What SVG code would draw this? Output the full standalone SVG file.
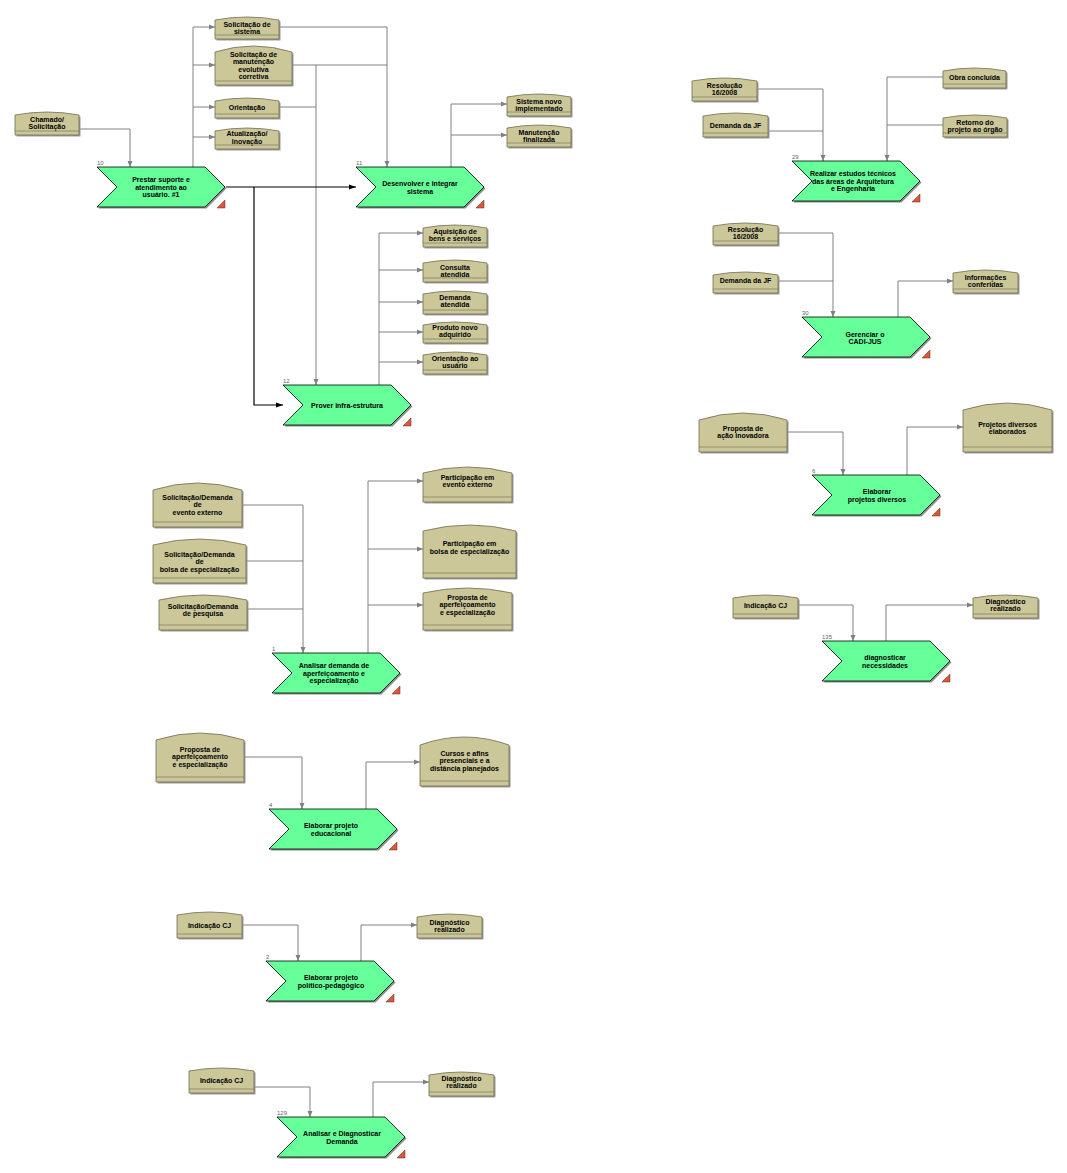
<svg xmlns="http://www.w3.org/2000/svg" width="1067" height="1173" viewBox="0 0 1067 1173">
<style>
.ev{fill:#CBC799;stroke:#6F6C50;stroke-width:0.8}
.evs{fill:#9C9C9C}
.sep{stroke:#6F6C50;stroke-width:0.6}
.fn{fill:#66FF99;stroke:#000;stroke-width:0.8}
.fns{fill:#8C8C8C}
.tri{fill:#D9573A;stroke:#6B2818;stroke-width:0.5}
.t{font-family:"Liberation Sans",Arial,sans-serif;font-size:7px;font-weight:bold;text-anchor:middle;fill:#000}
.num{font-family:"Liberation Sans",Arial,sans-serif;font-size:6px;fill:#666}
.c{fill:none;stroke:#808080;stroke-width:1;marker-end:url(#ag)}
.cn{fill:none;stroke:#808080;stroke-width:1}
.cb{fill:none;stroke:#000;stroke-width:1.2;marker-end:url(#ab)}
</style>
<defs>
<marker id="ag" viewBox="0 0 6 6" refX="6" refY="3" markerWidth="6" markerHeight="6" orient="auto" markerUnits="userSpaceOnUse"><path d="M0,0.5 L6,3 L0,5.5 Z" fill="#808080"/></marker>
<marker id="ab" viewBox="0 0 7 6" refX="7" refY="3" markerWidth="7" markerHeight="6" orient="auto" markerUnits="userSpaceOnUse"><path d="M0,0.5 L7,3 L0,5.5 Z" fill="#000"/></marker>
<polygon id="fshape" points="0,0 108,0 128,20 108,40 0,40 20,20"/>
<polygon id="ftri" points="120,41 128,41 128,33"/>
</defs>
<rect width="1067" height="1173" fill="#fff"/>

<g id="connectors">
<path class="c" d="M79,129 H130 V167"/>
<path class="c" d="M193,167 V27 H215"/>
<path class="c" d="M193,65 H215"/>
<path class="c" d="M193,107 H215"/>
<path class="c" d="M193,137 H215"/>
<path class="c" d="M279,27 H387 V167"/>
<path class="cn" d="M292,65 H387"/>
<path class="c" d="M316,65 V385"/>
<path class="cn" d="M279,107 H316"/>
<path class="cb" d="M226,187 H356"/>
<path class="cb" d="M254,187 V405 H283"/>
<path class="c" d="M451,167 V104 H507"/>
<path class="c" d="M451,135 H507"/>
<path class="c" d="M379,385 V233 H423"/>
<path class="c" d="M379,270 H423"/>
<path class="c" d="M379,302 H423"/>
<path class="c" d="M379,332 H423"/>
<path class="c" d="M379,362 H423"/>
<path class="cn" d="M242,505 H303"/>
<path class="cn" d="M246,561 H303"/>
<path class="cn" d="M247,609 H303"/>
<path class="c" d="M303,505 V653"/>
<path class="c" d="M368,653 V481 H423"/>
<path class="c" d="M368,549 H423"/>
<path class="c" d="M368,605 H423"/>
<path class="c" d="M244,757 H302 V809"/>
<path class="c" d="M366,809 V762 H420"/>
<path class="c" d="M242,925 H298 V961"/>
<path class="c" d="M361,961 V925 H417"/>
<path class="c" d="M254,1087 H310 V1117"/>
<path class="c" d="M373,1117 V1082 H429"/>
<path class="c" d="M757,89 H823 V161"/>
<path class="cn" d="M768,131 H823"/>
<path class="c" d="M943,77 H887 V161"/>
<path class="cn" d="M943,125 H887"/>
<path class="c" d="M778,233 H833 V317"/>
<path class="cn" d="M778,281 H833"/>
<path class="c" d="M898,317 V281 H953"/>
<path class="c" d="M787,432 H843 V475"/>
<path class="c" d="M907,475 V427 H963"/>
<path class="c" d="M798,605 H853 V641"/>
<path class="c" d="M886,641 V605 H973"/>
</g>

<!-- Functions -->
<g id="f10" transform="translate(97,167)"><use href="#fshape" class="fns" x="1.5" y="1.5"/><use href="#fshape" class="fn"/><use href="#ftri" class="tri"/><text class="num" x="0" y="-2">10</text><text class="t" x="64" y="15">Prestar suporte e</text><text class="t" x="64" y="22.5">atendimento ao</text><text class="t" x="64" y="30">usuário. #1</text></g>
<g id="f11" transform="translate(356,167)"><use href="#fshape" class="fns" x="1.5" y="1.5"/><use href="#fshape" class="fn"/><use href="#ftri" class="tri"/><text class="num" x="0" y="-2">11</text><text class="t" x="64" y="19">Desenvolver e integrar</text><text class="t" x="64" y="26.5">sistema</text></g>
<g id="f12" transform="translate(283,385)"><use href="#fshape" class="fns" x="1.5" y="1.5"/><use href="#fshape" class="fn"/><use href="#ftri" class="tri"/><text class="num" x="0" y="-2">12</text><text class="t" x="64" y="23">Prover infra-estrutura</text></g>
<g id="f1" transform="translate(272,653)"><use href="#fshape" class="fns" x="1.5" y="1.5"/><use href="#fshape" class="fn"/><use href="#ftri" class="tri"/><text class="num" x="0" y="-2">1</text><text class="t" x="62" y="15">Analisar demanda de</text><text class="t" x="62" y="22.5">aperfeiçoamento e</text><text class="t" x="62" y="30">especialização</text></g>
<g id="f4" transform="translate(269,809)"><use href="#fshape" class="fns" x="1.5" y="1.5"/><use href="#fshape" class="fn"/><use href="#ftri" class="tri"/><text class="num" x="0" y="-2">4</text><text class="t" x="62" y="19">Elaborar projeto</text><text class="t" x="62" y="26.5">educacional</text></g>
<g id="f2" transform="translate(266,961)"><use href="#fshape" class="fns" x="1.5" y="1.5"/><use href="#fshape" class="fn"/><use href="#ftri" class="tri"/><text class="num" x="0" y="-2">2</text><text class="t" x="65" y="19">Elaborar projeto</text><text class="t" x="65" y="26.5">político-pedagógico</text></g>
<g id="f129" transform="translate(277,1117)"><use href="#fshape" class="fns" x="1.5" y="1.5"/><use href="#fshape" class="fn"/><use href="#ftri" class="tri"/><text class="num" x="0" y="-2">129</text><text class="t" x="65" y="19">Analisar e Diagnosticar</text><text class="t" x="65" y="26.5">Demanda</text></g>
<g id="f29" transform="translate(792,161)"><use href="#fshape" class="fns" x="1.5" y="1.5"/><use href="#fshape" class="fn"/><use href="#ftri" class="tri"/><text class="num" x="0" y="-2">29</text><text class="t" x="61" y="15">Realizar estudos técnicos</text><text class="t" x="61" y="22.5">das áreas de Arquitetura</text><text class="t" x="61" y="30">e Engenharia</text></g>
<g id="f30" transform="translate(802,317)"><use href="#fshape" class="fns" x="1.5" y="1.5"/><use href="#fshape" class="fn"/><use href="#ftri" class="tri"/><text class="num" x="0" y="-2">30</text><text class="t" x="63" y="19.5">Gerenciar o</text><text class="t" x="63" y="27">CADI-JUS</text></g>
<g id="f6" transform="translate(812,475)"><use href="#fshape" class="fns" x="1.5" y="1.5"/><use href="#fshape" class="fn"/><use href="#ftri" class="tri"/><text class="num" x="0" y="-2">6</text><text class="t" x="65" y="19">Elaborar</text><text class="t" x="65" y="26.5">projetos diversos</text></g>
<g id="f135" transform="translate(822,641)"><use href="#fshape" class="fns" x="1.5" y="1.5"/><use href="#fshape" class="fn"/><use href="#ftri" class="tri"/><text class="num" x="0" y="-2">135</text><text class="t" x="63" y="19">diagnosticar</text><text class="t" x="63" y="26.5">necessidades</text></g>

<!-- Events -->
<g id="e-chamado"><path class="evs" transform="translate(1.5,1.5)" d="M15,115 Q47,109 79,115 V135 H15 Z"/><path class="ev" d="M15,115 Q47,109 79,115 V135 H15 Z"/><line class="sep" x1="15" y1="131" x2="79" y2="131"/><text class="t" x="47" y="122">Chamado/</text><text class="t" x="47" y="129">Solicitação</text></g>
<g id="e-sol-sistema"><path class="evs" transform="translate(1.5,1.5)" d="M215,20 Q247,14 279,20 V39 H215 Z"/><path class="ev" d="M215,20 Q247,14 279,20 V39 H215 Z"/><line class="sep" x1="215" y1="35" x2="279" y2="35"/><text class="t" x="247" y="26.5">Solicitação de</text><text class="t" x="247" y="33.5">sistema</text></g>
<g id="e-sol-manut"><path class="evs" transform="translate(1.5,1.5)" d="M215,52 Q253.5,40 292,52 V85 H215 Z"/><path class="ev" d="M215,52 Q253.5,40 292,52 V85 H215 Z"/><line class="sep" x1="215" y1="81" x2="292" y2="81"/><text class="t" x="253.5" y="56.5">Solicitação de</text><text class="t" x="253.5" y="64">manutenção</text><text class="t" x="253.5" y="71.5">evolutiva</text><text class="t" x="253.5" y="79">corretiva</text></g>
<g id="e-orientacao"><path class="evs" transform="translate(1.5,1.5)" d="M215,101 Q247,95 279,101 V118 H215 Z"/><path class="ev" d="M215,101 Q247,95 279,101 V118 H215 Z"/><line class="sep" x1="215" y1="114" x2="279" y2="114"/><text class="t" x="247" y="109.5">Orientação</text></g>
<g id="e-atualizacao"><path class="evs" transform="translate(1.5,1.5)" d="M215,131 Q247,125 279,131 V149 H215 Z"/><path class="ev" d="M215,131 Q247,125 279,131 V149 H215 Z"/><line class="sep" x1="215" y1="145" x2="279" y2="145"/><text class="t" x="247" y="136">Atualização/</text><text class="t" x="247" y="143.5">Inovação</text></g>
<g id="e-sist-novo"><path class="evs" transform="translate(1.5,1.5)" d="M507,97 Q539,91 571,97 V116 H507 Z"/><path class="ev" d="M507,97 Q539,91 571,97 V116 H507 Z"/><line class="sep" x1="507" y1="112" x2="571" y2="112"/><text class="t" x="539" y="103.5">Sistema novo</text><text class="t" x="539" y="110.5">implementado</text></g>
<g id="e-manut-final"><path class="evs" transform="translate(1.5,1.5)" d="M507,128 Q539,122 571,128 V147 H507 Z"/><path class="ev" d="M507,128 Q539,122 571,128 V147 H507 Z"/><line class="sep" x1="507" y1="143" x2="571" y2="143"/><text class="t" x="539" y="134.5">Manutenção</text><text class="t" x="539" y="141.5">finalizada</text></g>
<g id="e-aquisicao"><path class="evs" transform="translate(1.5,1.5)" d="M423,228 Q455,222 487,228 V247 H423 Z"/><path class="ev" d="M423,228 Q455,222 487,228 V247 H423 Z"/><line class="sep" x1="423" y1="243" x2="487" y2="243"/><text class="t" x="455" y="233.5">Aquisição de</text><text class="t" x="455" y="240.5">bens e serviços</text></g>
<g id="e-consulta"><path class="evs" transform="translate(1.5,1.5)" d="M423,263 Q455,257 487,263 V282 H423 Z"/><path class="ev" d="M423,263 Q455,257 487,263 V282 H423 Z"/><line class="sep" x1="423" y1="278" x2="487" y2="278"/><text class="t" x="455" y="269.5">Consulta</text><text class="t" x="455" y="276.5">atendida</text></g>
<g id="e-demanda-atendida"><path class="evs" transform="translate(1.5,1.5)" d="M423,294 Q455,288 487,294 V314 H423 Z"/><path class="ev" d="M423,294 Q455,288 487,294 V314 H423 Z"/><line class="sep" x1="423" y1="310" x2="487" y2="310"/><text class="t" x="455" y="299.5">Demanda</text><text class="t" x="455" y="306.5">atendida</text></g>
<g id="e-produto"><path class="evs" transform="translate(1.5,1.5)" d="M423,325 Q455,319 487,325 V343 H423 Z"/><path class="ev" d="M423,325 Q455,319 487,325 V343 H423 Z"/><line class="sep" x1="423" y1="339" x2="487" y2="339"/><text class="t" x="455" y="329.5">Produto novo</text><text class="t" x="455" y="336.5">adquirido</text></g>
<g id="e-orient-usuario"><path class="evs" transform="translate(1.5,1.5)" d="M423,355 Q455,349 487,355 V374 H423 Z"/><path class="ev" d="M423,355 Q455,349 487,355 V374 H423 Z"/><line class="sep" x1="423" y1="370" x2="487" y2="370"/><text class="t" x="455" y="360.5">Orientação ao</text><text class="t" x="455" y="368">usuário</text></g>

<g id="e-sol-evento"><path class="evs" transform="translate(1.5,1.5)" d="M153,490 Q197.5,476 242,490 V527 H153 Z"/><path class="ev" d="M153,490 Q197.5,476 242,490 V527 H153 Z"/><line class="sep" x1="153" y1="522" x2="242" y2="522"/><text class="t" x="197.5" y="499.5">Solicitação/Demanda</text><text class="t" x="197.5" y="507">de</text><text class="t" x="197.5" y="514.5">evento externo</text></g>
<g id="e-sol-bolsa"><path class="evs" transform="translate(1.5,1.5)" d="M153,545 Q199.5,533 246,545 V583 H153 Z"/><path class="ev" d="M153,545 Q199.5,533 246,545 V583 H153 Z"/><line class="sep" x1="153" y1="578" x2="246" y2="578"/><text class="t" x="199.5" y="556.5">Solicitação/Demanda</text><text class="t" x="199.5" y="564">de</text><text class="t" x="199.5" y="571.5">bolsa de especialização</text></g>
<g id="e-sol-pesquisa"><path class="evs" transform="translate(1.5,1.5)" d="M159,600 Q203,590 247,600 V630 H159 Z"/><path class="ev" d="M159,600 Q203,590 247,600 V630 H159 Z"/><line class="sep" x1="159" y1="625" x2="247" y2="625"/><text class="t" x="203" y="608.5">Solicitação/Demanda</text><text class="t" x="203" y="616">de pesquisa</text></g>
<g id="e-part-evento"><path class="evs" transform="translate(1.5,1.5)" d="M423,473 Q467.5,461 512,473 V502 H423 Z"/><path class="ev" d="M423,473 Q467.5,461 512,473 V502 H423 Z"/><line class="sep" x1="423" y1="497" x2="512" y2="497"/><text class="t" x="467.5" y="479.5">Participação em</text><text class="t" x="467.5" y="487">evento externo</text></g>
<g id="e-part-bolsa"><path class="evs" transform="translate(1.5,1.5)" d="M423,531 Q469.5,519 516,531 V578 H423 Z"/><path class="ev" d="M423,531 Q469.5,519 516,531 V578 H423 Z"/><line class="sep" x1="423" y1="573" x2="516" y2="573"/><text class="t" x="469.5" y="545.5">Participação em</text><text class="t" x="469.5" y="554">bolsa de especialização</text></g>
<g id="e-proposta-out"><path class="evs" transform="translate(1.5,1.5)" d="M423,593 Q467.5,583 512,593 V630 H423 Z"/><path class="ev" d="M423,593 Q467.5,583 512,593 V630 H423 Z"/><line class="sep" x1="423" y1="625" x2="512" y2="625"/><text class="t" x="467.5" y="599.5">Proposta de</text><text class="t" x="467.5" y="607">aperfeiçoamento</text><text class="t" x="467.5" y="614.5">e especialização</text></g>

<g id="e-proposta-in"><path class="evs" transform="translate(1.5,1.5)" d="M156,740 Q200,726 244,740 V782 H156 Z"/><path class="ev" d="M156,740 Q200,726 244,740 V782 H156 Z"/><line class="sep" x1="156" y1="777" x2="244" y2="777"/><text class="t" x="200" y="751.5">Proposta de</text><text class="t" x="200" y="759">aperfeiçoamento</text><text class="t" x="200" y="766.5">e especialização</text></g>
<g id="e-cursos"><path class="evs" transform="translate(1.5,1.5)" d="M420,745 Q464.5,729 509,745 V786 H420 Z"/><path class="ev" d="M420,745 Q464.5,729 509,745 V786 H420 Z"/><line class="sep" x1="420" y1="781" x2="509" y2="781"/><text class="t" x="464.5" y="755.5">Cursos e afins</text><text class="t" x="464.5" y="763">presenciais e a</text><text class="t" x="464.5" y="770.5">distância planejados</text></g>

<g id="e-indic-1"><path class="evs" transform="translate(1.5,1.5)" d="M177,915 Q209.5,909 242,915 V938 H177 Z"/><path class="ev" d="M177,915 Q209.5,909 242,915 V938 H177 Z"/><line class="sep" x1="177" y1="934" x2="242" y2="934"/><text class="t" x="209.5" y="927.5">Indicação CJ</text></g>
<g id="e-diag-1"><path class="evs" transform="translate(1.5,1.5)" d="M417,917 Q449.5,911 482,917 V938 H417 Z"/><path class="ev" d="M417,917 Q449.5,911 482,917 V938 H417 Z"/><line class="sep" x1="417" y1="934" x2="482" y2="934"/><text class="t" x="449.5" y="924.5">Diagnóstico</text><text class="t" x="449.5" y="931.5">realizado</text></g>
<g id="e-indic-2"><path class="evs" transform="translate(1.5,1.5)" d="M189,1071 Q221.5,1065 254,1071 V1093 H189 Z"/><path class="ev" d="M189,1071 Q221.5,1065 254,1071 V1093 H189 Z"/><line class="sep" x1="189" y1="1089" x2="254" y2="1089"/><text class="t" x="221.5" y="1082.5">Indicação CJ</text></g>
<g id="e-diag-2"><path class="evs" transform="translate(1.5,1.5)" d="M429,1075 Q461.5,1069 494,1075 V1096 H429 Z"/><path class="ev" d="M429,1075 Q461.5,1069 494,1075 V1096 H429 Z"/><line class="sep" x1="429" y1="1092" x2="494" y2="1092"/><text class="t" x="461.5" y="1080.5">Diagnóstico</text><text class="t" x="461.5" y="1087.5">realizado</text></g>

<g id="e-resol-1"><path class="evs" transform="translate(1.5,1.5)" d="M692,81 Q724.5,75 757,81 V101 H692 Z"/><path class="ev" d="M692,81 Q724.5,75 757,81 V101 H692 Z"/><line class="sep" x1="692" y1="97" x2="757" y2="97"/><text class="t" x="724.5" y="87.5">Resolução</text><text class="t" x="724.5" y="95">16/2008</text></g>
<g id="e-demjf-1"><path class="evs" transform="translate(1.5,1.5)" d="M703,116 Q735.5,110 768,116 V137 H703 Z"/><path class="ev" d="M703,116 Q735.5,110 768,116 V137 H703 Z"/><line class="sep" x1="703" y1="133" x2="768" y2="133"/><text class="t" x="735.5" y="127.5">Demanda da JF</text></g>
<g id="e-obra"><path class="evs" transform="translate(1.5,1.5)" d="M943,71 Q974.5,65 1006,71 V88 H943 Z"/><path class="ev" d="M943,71 Q974.5,65 1006,71 V88 H943 Z"/><line class="sep" x1="943" y1="84" x2="1006" y2="84"/><text class="t" x="974.5" y="79.5">Obra concluída</text></g>
<g id="e-retorno"><path class="evs" transform="translate(1.5,1.5)" d="M943,118 Q975,112 1007,118 V137 H943 Z"/><path class="ev" d="M943,118 Q975,112 1007,118 V137 H943 Z"/><line class="sep" x1="943" y1="133" x2="1007" y2="133"/><text class="t" x="975" y="124.5">Retorno do</text><text class="t" x="975" y="131.5">projeto ao órgão</text></g>
<g id="e-resol-2"><path class="evs" transform="translate(1.5,1.5)" d="M713,226 Q745.5,220 778,226 V245 H713 Z"/><path class="ev" d="M713,226 Q745.5,220 778,226 V245 H713 Z"/><line class="sep" x1="713" y1="241" x2="778" y2="241"/><text class="t" x="745.5" y="231.5">Resolução</text><text class="t" x="745.5" y="239">16/2008</text></g>
<g id="e-demjf-2"><path class="evs" transform="translate(1.5,1.5)" d="M713,275 Q745.5,269 778,275 V293 H713 Z"/><path class="ev" d="M713,275 Q745.5,269 778,275 V293 H713 Z"/><line class="sep" x1="713" y1="289" x2="778" y2="289"/><text class="t" x="745.5" y="282.5">Demanda da JF</text></g>
<g id="e-info"><path class="evs" transform="translate(1.5,1.5)" d="M953,273 Q985.5,267 1018,273 V293 H953 Z"/><path class="ev" d="M953,273 Q985.5,267 1018,273 V293 H953 Z"/><line class="sep" x1="953" y1="289" x2="1018" y2="289"/><text class="t" x="985.5" y="279.5">Informações</text><text class="t" x="985.5" y="287">conferidas</text></g>
<g id="e-prop-acao"><path class="evs" transform="translate(1.5,1.5)" d="M699,420 Q743,406 787,420 V452 H699 Z"/><path class="ev" d="M699,420 Q743,406 787,420 V452 H699 Z"/><line class="sep" x1="699" y1="447" x2="787" y2="447"/><text class="t" x="743" y="430.5">Proposta de</text><text class="t" x="743" y="437.5">ação inovadora</text></g>
<g id="e-proj-div"><path class="evs" transform="translate(1.5,1.5)" d="M963,410 Q1007.5,396 1052,410 V452 H963 Z"/><path class="ev" d="M963,410 Q1007.5,396 1052,410 V452 H963 Z"/><line class="sep" x1="963" y1="447" x2="1052" y2="447"/><text class="t" x="1007.5" y="426.5">Projetos diversos</text><text class="t" x="1007.5" y="434">elaborados</text></g>
<g id="e-indic-3"><path class="evs" transform="translate(1.5,1.5)" d="M733,598 Q765.5,592 798,598 V618 H733 Z"/><path class="ev" d="M733,598 Q765.5,592 798,598 V618 H733 Z"/><line class="sep" x1="733" y1="614" x2="798" y2="614"/><text class="t" x="765.5" y="607.5">Indicação CJ</text></g>
<g id="e-diag-3"><path class="evs" transform="translate(1.5,1.5)" d="M973,598 Q1005.5,592 1038,598 V618 H973 Z"/><path class="ev" d="M973,598 Q1005.5,592 1038,598 V618 H973 Z"/><line class="sep" x1="973" y1="614" x2="1038" y2="614"/><text class="t" x="1005.5" y="603.5">Diagnóstico</text><text class="t" x="1005.5" y="611">realizado</text></g>
</svg>
